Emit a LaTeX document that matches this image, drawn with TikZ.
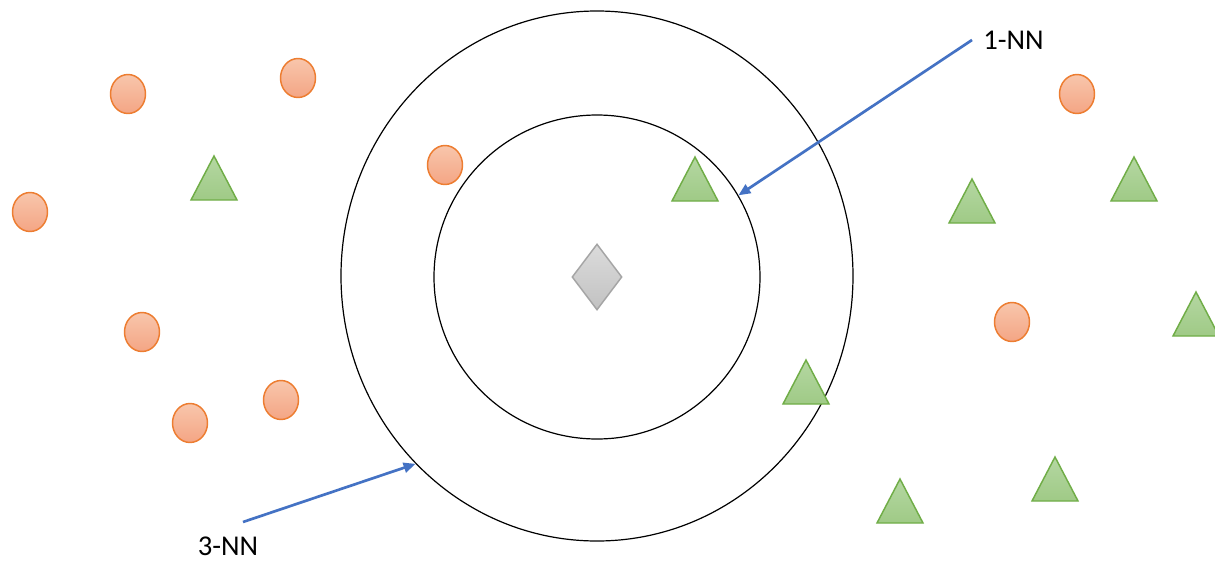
\documentclass[tikz,border=0pt]{standalone}
\usepackage{fontspec}
\setmainfont{Carlito}
\usepackage{tikz}
\usetikzlibrary{positioning,arrows.meta,shapes.geometric}

\definecolor{ptorange}{HTML}{ED7D31}
\definecolor{ptorangeT}{HTML}{F8C6AC}
\definecolor{ptorangeB}{HTML}{F4A584}
\definecolor{ptgreen}{HTML}{70AD47}
\definecolor{ptgreenT}{HTML}{B5D7A2}
\definecolor{ptgreenB}{HTML}{9FCA86}
\definecolor{ptblue}{HTML}{4472C4}
\definecolor{ptgray}{HTML}{A5A5A5}

\tikzset{
  ring/.style={draw,ellipse,line width=0.9pt,inner sep=0pt},
  dotA/.style={draw=ptorange,line width=1.1pt,top color=ptorangeT,bottom color=ptorangeB},
  triB/.style={draw=ptgreen,line width=1.1pt,line join=miter,top color=ptgreenT,bottom color=ptgreenB},
  nnlabel/.style={font=\fontsize{21.5}{26}\selectfont,inner sep=0pt},
  pointer/.style={draw=ptblue,line width=2pt,-{Triangle[length=9pt,width=7.5pt]}}
}

\begin{document}
\begin{tikzpicture}[x=0.75pt,y=-0.75pt]
  \useasboundingbox[fill=white] (0,0) rectangle (1215,561);

  % neighbourhood rings and the query point
  \node[ring,minimum width=384pt,minimum height=397.5pt] (outer) at (597,276) {};
  \node[ring,minimum width=244.5pt,minimum height=243pt] (inner) at (597,277) {};
  \node[diamond,draw=ptgray,line width=1.1pt,top color=gray!28,bottom color=gray!48,
        minimum width=37.5pt,minimum height=49.5pt,inner sep=0pt] (query) at (597,277) {};

  % class A
  \foreach \x/\y in {128/94,298/78,30/212,445/165,142/332,281/400,190/423,1077/94,1012/322}
    \draw[dotA] (\x,\y) ellipse [x radius=17.5,y radius=19.5];

  % class B
  \foreach \x/\y in {214/156,695/157,972/179,1134/157,1196/292,806/360,1055/457,900/479}
    \draw[triB] (\x,\y) -- (\x+23,\y+44) -- (\x-23,\y+44) -- cycle;

  % labels
  \node[nnlabel,anchor=west,inner xsep=8.25pt] (nn1) at (972,40) {1-NN};
  \node[nnlabel,anchor=north] (nn3) at (228,537) {3-NN};
  \coordinate (nn3tail) at (243,522);

  \draw[pointer] (nn1.west) -- (inner.30);
  \draw[pointer] (nn3tail) -- (outer.226);
\end{tikzpicture}
\end{document}
